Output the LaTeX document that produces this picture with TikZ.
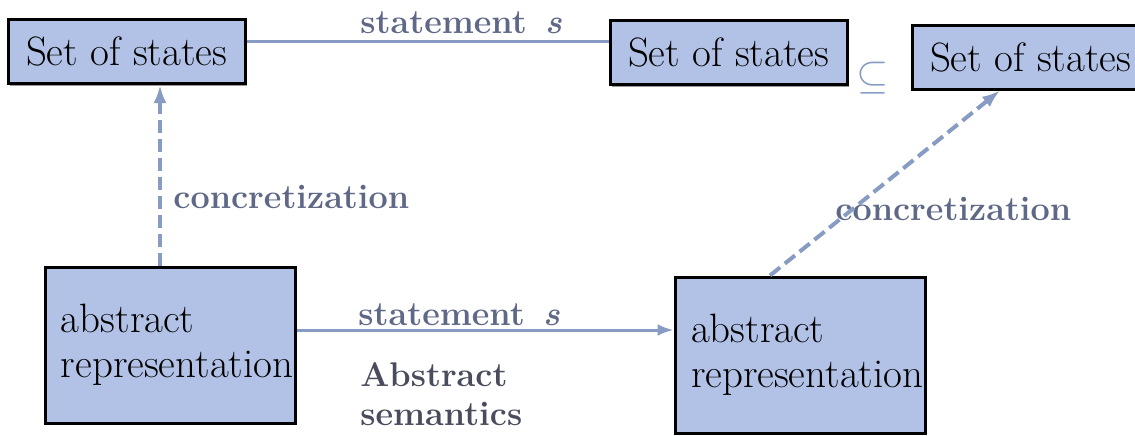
\documentclass[tikz,border=0pt]{standalone}
\usetikzlibrary{arrows.meta,shadows}
\definecolor{boxfill}{RGB}{178,194,230}
\definecolor{linkcol}{RGB}{135,155,195}
\definecolor{labcol}{RGB}{95,105,135}
\definecolor{semcol}{RGB}{72,76,92}

\begin{document}
\begin{tikzpicture}[x=0.5pt, y=-0.5pt,
  every node/.style={font=\fontsize{20.5}{22.5}\selectfont},
  box/.style={draw, line width=1.5pt, fill=boxfill, minimum width=118.5pt, minimum height=32pt, inner sep=0pt,
    drop shadow={shadow xshift=1.2pt, shadow yshift=-1.2pt, fill=black!40, opacity=1}},
  absbox/.style={box, minimum width=125pt, minimum height=78pt, text width=109pt, inner xsep=8pt, align=flush left},
  lab/.style={inner sep=0pt, text=labcol, font=\fontsize{17.1}{19.5}\selectfont\bfseries},
  link/.style={linkcol, line width=1.5pt},
  arr/.style={link, -{Latex[length=8pt, width=6pt]}},
  conc/.style={link, line width=2pt, dash pattern=on 6.5pt off 3pt, -{Latex[length=9pt, width=6.5pt]}}]
\useasboundingbox (0,0) rectangle (1135,435);
\clip (0,0) rectangle (1135,435);
\node[box] (setA) at (126.5,51.5) {Set of states};
\node[box] (setB) at (728.5,52.5) {Set of states};
\node[box] (setC) at (1030.5,57) {Set of states};
\node[absbox] (absD) at (170,345) {abstract\\representation};
\node[absbox] (absE) at (800,355) {abstract\\representation};
\node[lab, anchor=base west] (stmtTop) at (360,33) {statement\hspace{0.55em}\textit{s}};
\node[lab, anchor=base west] (stmtBot) at (358,325) {statement\hspace{0.55em}\textit{s}};
\node[lab, anchor=north west, align=left, text=semcol] (absSem) at (360,362) {Abstract\\semantics};
\node[lab, anchor=base west] (concL) at (173,208) {concretization};
\node[lab, anchor=base west] (concR) at (835,220) {concretization};
\node[text=linkcol, font=\fontsize{20}{20}\selectfont] (incl) at (873,78) {$\subseteq$};
\coordinate (topL) at ([yshift=5.25pt]setA.east);
\coordinate (botL) at ([yshift=7.5pt]absD.east);
\coordinate (upL) at ([xshift=-5pt]absD.north);
\draw[link] (topL) -- (topL -| setB.west);
\draw[arr] (botL) -- (botL -| absE.west);
\draw[conc] (upL) -- (upL |- setA.south);
\draw[conc] ([xshift=-15pt]absE.north) -- ([xshift=-15.25pt]setC.south);
\end{tikzpicture}
\end{document}
